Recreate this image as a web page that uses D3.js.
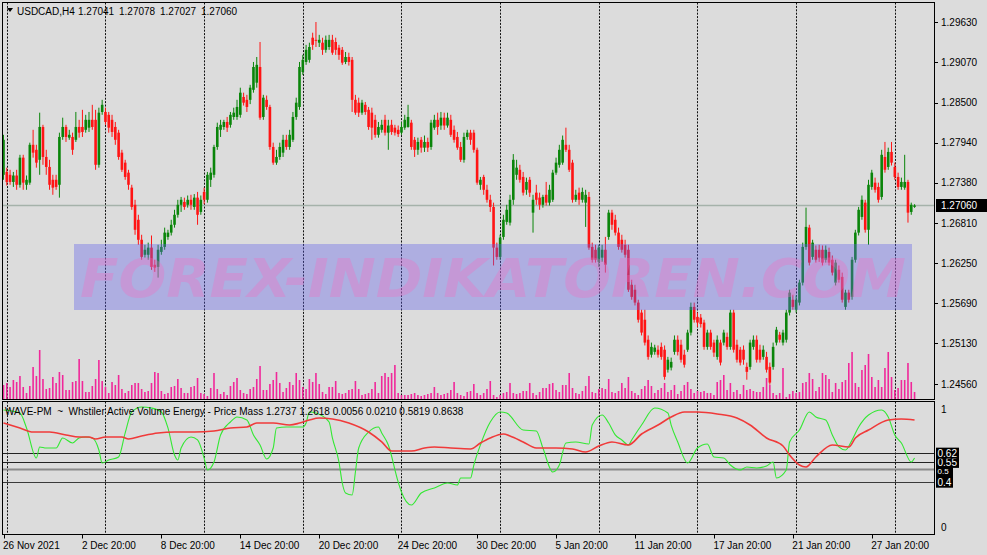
<!DOCTYPE html>
<html><head><meta charset="utf-8">
<script src="https://cdn.jsdelivr.net/npm/d3@7"></script>
<style>html,body{margin:0;padding:0;background:#dcdcdc;overflow:hidden}svg{display:block}</style>
</head><body>
<svg id="chart" width="987" height="555"></svg>
<script>
// ---------- DATA (USDCAD H4, one entry per bar) ----------
const opens = [
1.2749,1.2753,1.2749,1.2739,1.2748,1.2735,1.2773,1.2735,1.2738,1.2791,
1.2784,1.2770,1.2816,1.2774,1.2760,1.2742,1.2742,1.2735,1.2802,1.2816,
1.2801,1.2802,1.2798,1.2816,1.2816,1.2812,1.2815,1.2826,1.2826,1.2763,
1.2837,1.2837,1.2833,1.2826,1.2816,1.2808,1.2780,1.2766,1.2752,1.2731,
1.2707,1.2686,1.2658,1.2637,1.2637,1.2647,1.2623,1.2620,1.2641,1.2648,
1.2662,1.2668,1.2679,1.2693,1.2707,1.2711,1.2707,1.2714,1.2704,1.2717,
1.2697,1.2725,1.2714,1.2742,1.2749,1.2788,1.2812,1.2816,1.2823,1.2819,
1.2830,1.2830,1.2833,1.2858,1.2854,1.2854,1.2868,1.2878,1.2900,1.2830,
1.2854,1.2844,1.2788,1.2766,1.2774,1.2780,1.2798,1.2788,1.2798,1.2830,
1.2844,1.2893,1.2907,1.2910,1.2941,1.2938,1.2934,1.2934,1.2924,1.2928,
1.2938,1.2935,1.2927,1.2924,1.2907,1.2914,1.2910,1.2854,1.2850,1.2836,
1.2847,1.2840,1.2836,1.2826,1.2805,1.2812,1.2826,1.2808,1.2819,1.2815,
1.2812,1.2808,1.2815,1.2816,1.2822,1.2798,1.2784,1.2798,1.2787,1.2795,
1.2788,1.2815,1.2826,1.2818,1.2829,1.2818,1.2826,1.2812,1.2802,1.2788,
1.2770,1.2802,1.2808,1.2808,1.2784,1.2735,1.2746,1.2728,1.2714,1.2704,
1.2647,1.2634,1.2662,1.2683,1.2682,1.2714,1.2749,1.2756,1.2746,1.2728,
1.2742,1.2696,1.2724,1.2717,1.2707,1.2721,1.2710,1.2714,1.2752,1.2763,
1.2766,1.2791,1.2784,1.2766,1.2714,1.2724,1.2714,1.2710,1.2718,1.2648,
1.2644,1.2627,1.2633,1.2644,1.2662,1.2696,1.2686,1.2668,1.2658,1.2651,
1.2644,1.2595,1.2588,1.2570,1.2556,1.2546,1.2518,1.2497,1.2501,1.2504,
1.2508,1.2504,1.2476,1.2479,1.2501,1.2518,1.2511,1.2497,1.2504,1.2528,
1.2564,1.2550,1.2549,1.2542,1.2508,1.2528,1.2514,1.2494,1.2514,1.2514,
1.2522,1.2508,1.2556,1.2511,1.2504,1.2504,1.2480,1.2480,1.2508,1.2518,
1.2504,1.2494,1.2494,1.2480,1.2480,1.2514,1.2525,1.2514,1.2518,1.2556,
1.2574,1.2560,1.2570,1.2598,1.2648,1.2675,1.2634,1.2644,1.2644,1.2644,
1.2630,1.2641,1.2630,1.2598,1.2616,1.2606,1.2564,1.2584,1.2578,1.2630,
1.2668,1.2690,1.2710,1.2672,1.2732,1.2738,1.2732,1.2718,1.2774,1.2760,
1.2781,1.2760,1.2746,1.2732,1.2731,1.2739,1.2697,1.27041];

const highs = [
1.2805,1.2759,1.2756,1.2753,1.2756,1.2777,1.2777,1.2748,1.2794,1.2812,
1.2791,1.2836,1.2819,1.2784,1.2770,1.2749,1.2749,1.2808,1.2829,1.2819,
1.2812,1.2808,1.2837,1.2826,1.2840,1.2833,1.2837,1.2847,1.2840,1.2843,
1.2854,1.2843,1.2837,1.2833,1.2823,1.2812,1.2784,1.2770,1.2756,1.2735,
1.2714,1.2693,1.2665,1.2651,1.2654,1.2664,1.2630,1.2651,1.2658,1.2675,
1.2672,1.2686,1.2700,1.2714,1.2718,1.2717,1.2720,1.2721,1.2722,1.2725,
1.2720,1.2731,1.2753,1.2759,1.2791,1.2822,1.2826,1.2826,1.2830,1.2837,
1.2843,1.2854,1.2871,1.2864,1.2861,1.2875,1.2907,1.2914,1.2935,1.2861,
1.2860,1.2847,1.2794,1.2784,1.2794,1.2805,1.2805,1.2812,1.2837,1.2857,
1.2907,1.2917,1.2931,1.2934,1.2948,1.2963,1.2945,1.2941,1.2944,1.2945,
1.2945,1.2941,1.2931,1.2928,1.2921,1.2920,1.2914,1.2861,1.2857,1.2854,
1.2851,1.2844,1.2843,1.2833,1.2823,1.2826,1.2833,1.2826,1.2826,1.2819,
1.2818,1.2823,1.2833,1.2847,1.2826,1.2802,1.2801,1.2802,1.2804,1.2801,
1.2826,1.2833,1.2836,1.2837,1.2836,1.2836,1.2833,1.2818,1.2809,1.2795,
1.2808,1.2812,1.2812,1.2812,1.2787,1.2746,1.2749,1.2735,1.2721,1.2710,
1.2654,1.2665,1.2693,1.2707,1.2721,1.2778,1.2770,1.2763,1.2753,1.2745,
1.2746,1.2721,1.2735,1.2724,1.2721,1.2739,1.2735,1.2756,1.2773,1.2791,
1.2804,1.2815,1.2791,1.2770,1.2728,1.2731,1.2731,1.2728,1.2725,1.2654,
1.2651,1.2651,1.2651,1.2662,1.2700,1.2700,1.2693,1.2675,1.2665,1.2658,
1.2651,1.2602,1.2595,1.2574,1.2560,1.2560,1.2524,1.2514,1.2511,1.2510,
1.2514,1.2510,1.2494,1.2493,1.2524,1.2524,1.2518,1.2504,1.2532,1.2570,
1.2570,1.2556,1.2554,1.2546,1.2532,1.2532,1.2518,1.2524,1.2518,1.2532,
1.2528,1.2560,1.2560,1.2518,1.2508,1.2510,1.2486,1.2518,1.2524,1.2524,
1.2511,1.2510,1.2501,1.2486,1.2514,1.2536,1.2529,1.2532,1.2560,1.2588,
1.2581,1.2580,1.2602,1.2654,1.2703,1.2679,1.2658,1.2650,1.2651,1.2650,
1.2650,1.2647,1.2636,1.2630,1.2622,1.2612,1.2588,1.2588,1.2634,1.2672,
1.2704,1.2720,1.2714,1.2742,1.2756,1.2745,1.2738,1.2784,1.2795,1.2787,
1.2795,1.2766,1.2752,1.2745,1.2777,1.2742,1.2710,1.27078];

const lows = [
1.2742,1.2734,1.2735,1.2732,1.2728,1.2731,1.2728,1.2728,1.2735,1.2773,
1.2759,1.2749,1.2763,1.2749,1.2728,1.2721,1.2728,1.2717,1.2798,1.2795,
1.2798,1.2777,1.2795,1.2801,1.2802,1.2808,1.2809,1.2812,1.2756,1.2759,
1.2833,1.2819,1.2808,1.2802,1.2791,1.2770,1.2753,1.2742,1.2728,1.2700,
1.2665,1.2651,1.2630,1.2633,1.2630,1.2616,1.2613,1.2605,1.2637,1.2644,
1.2658,1.2664,1.2675,1.2689,1.2697,1.2700,1.2703,1.2700,1.2700,1.2679,
1.2693,1.2708,1.2710,1.2732,1.2745,1.2784,1.2802,1.2812,1.2809,1.2815,
1.2826,1.2826,1.2829,1.2846,1.2837,1.2848,1.2864,1.2871,1.2826,1.2826,
1.2840,1.2784,1.2763,1.2763,1.2770,1.2774,1.2784,1.2784,1.2795,1.2826,
1.2840,1.2889,1.2903,1.2906,1.2924,1.2928,1.2928,1.2917,1.2920,1.2924,
1.2917,1.2917,1.2910,1.2903,1.2904,1.2902,1.2837,1.2833,1.2830,1.2833,
1.2833,1.2812,1.2798,1.2801,1.2801,1.2808,1.2804,1.2784,1.2805,1.2804,
1.2802,1.2805,1.2812,1.2815,1.2784,1.2774,1.2777,1.2780,1.2781,1.2781,
1.2784,1.2812,1.2805,1.2812,1.2812,1.2815,1.2802,1.2794,1.2784,1.2767,
1.2766,1.2798,1.2791,1.2780,1.2735,1.2728,1.2721,1.2710,1.2697,1.2622,
1.2630,1.2630,1.2658,1.2679,1.2678,1.2707,1.2742,1.2738,1.2720,1.2721,
1.2718,1.2668,1.2707,1.2700,1.2703,1.2706,1.2706,1.2711,1.2749,1.2759,
1.2763,1.2781,1.2753,1.2710,1.2711,1.2707,1.2710,1.2676,1.2644,1.2626,
1.2626,1.2620,1.2627,1.2612,1.2658,1.2672,1.2664,1.2644,1.2640,1.2633,
1.2585,1.2574,1.2566,1.2542,1.2524,1.2510,1.2490,1.2493,1.2497,1.2493,
1.2490,1.2462,1.2472,1.2475,1.2497,1.2496,1.2486,1.2479,1.2501,1.2524,
1.2542,1.2536,1.2535,1.2504,1.2504,1.2504,1.2494,1.2490,1.2482,1.2510,
1.2504,1.2504,1.2500,1.2486,1.2482,1.2483,1.2462,1.2476,1.2504,1.2486,
1.2486,1.2490,1.2472,1.2455,1.2476,1.2510,1.2514,1.2510,1.2514,1.2552,
1.2560,1.2556,1.2566,1.2594,1.2644,1.2622,1.2630,1.2626,1.2627,1.2622,
1.2626,1.2622,1.2608,1.2594,1.2598,1.2570,1.2560,1.2570,1.2574,1.2626,
1.2664,1.2686,1.2668,1.2651,1.2728,1.2724,1.2710,1.2714,1.2752,1.2756,
1.2762,1.2742,1.2728,1.2728,1.2728,1.2682,1.2693,1.27027];

const closes = [
1.2798,1.2739,1.2739,1.2748,1.2735,1.2773,1.2738,1.2742,1.2791,1.2780,
1.2766,1.2816,1.2774,1.2760,1.2735,1.2731,1.2732,1.2802,1.2816,1.2802,
1.2805,1.2784,1.2816,1.2808,1.2809,1.2826,1.2826,1.2816,1.2763,1.2836,
1.2847,1.2823,1.2815,1.2809,1.2798,1.2774,1.2756,1.2746,1.2735,1.2704,
1.2672,1.2658,1.2634,1.2644,1.2647,1.2620,1.2619,1.2644,1.2648,1.2668,
1.2668,1.2679,1.2693,1.2707,1.2714,1.2704,1.2714,1.2707,1.2717,1.2693,
1.2714,1.2714,1.2749,1.2752,1.2788,1.2816,1.2819,1.2823,1.2815,1.2833,
1.2836,1.2844,1.2864,1.2850,1.2844,1.2871,1.2900,1.2903,1.2829,1.2857,
1.2844,1.2788,1.2766,1.2774,1.2788,1.2798,1.2788,1.2805,1.2830,1.2850,
1.2900,1.2910,1.2924,1.2928,1.2931,1.2937,1.2938,1.2924,1.2938,1.2938,
1.2920,1.2924,1.2917,1.2906,1.2914,1.2907,1.2854,1.2836,1.2836,1.2850,
1.2837,1.2816,1.2815,1.2805,1.2816,1.2819,1.2808,1.2818,1.2809,1.2808,
1.2806,1.2816,1.2826,1.2830,1.2788,1.2784,1.2795,1.2787,1.2795,1.2787,
1.2822,1.2826,1.2816,1.2829,1.2818,1.2829,1.2805,1.2798,1.2787,1.2770,
1.2802,1.2808,1.2798,1.2784,1.2738,1.2742,1.2728,1.2714,1.2704,1.2647,
1.2634,1.2661,1.2686,1.2700,1.2714,1.2770,1.2759,1.2742,1.2724,1.2739,
1.2724,1.2714,1.2714,1.2707,1.2718,1.2710,1.2728,1.2752,1.2766,1.2784,
1.2798,1.2784,1.2756,1.2714,1.2721,1.2714,1.2725,1.2721,1.2647,1.2630,
1.2630,1.2647,1.2644,1.2623,1.2696,1.2679,1.2668,1.2648,1.2644,1.2637,
1.2588,1.2578,1.2570,1.2546,1.2528,1.2514,1.2494,1.2508,1.2507,1.2497,
1.2494,1.2466,1.2490,1.2487,1.2518,1.2501,1.2490,1.2483,1.2528,1.2564,
1.2546,1.2542,1.2540,1.2508,1.2528,1.2508,1.2500,1.2518,1.2486,1.2528,
1.2508,1.2556,1.2504,1.2490,1.2486,1.2490,1.2473,1.2514,1.2518,1.2490,
1.2490,1.2504,1.2476,1.2458,1.2508,1.2532,1.2518,1.2528,1.2556,1.2584,
1.2564,1.2574,1.2598,1.2648,1.2676,1.2626,1.2654,1.2630,1.2633,1.2626,
1.2644,1.2626,1.2612,1.2626,1.2602,1.2574,1.2584,1.2574,1.2630,1.2668,
1.2700,1.2714,1.2672,1.2735,1.2752,1.2728,1.2714,1.2777,1.2756,1.2781,
1.2766,1.2746,1.2732,1.2739,1.2739,1.2696,1.2707,1.27060];

// tick volume (hundreds of ticks)
const volumes = [
14,16,12,19,17,23,12,6,13,32, 23,49,20,10,11,22,16,27,24,9,
9,17,18,40,18,7,7,13,20,39, 18,12,6,17,14,24,10,6,8,14,
16,16,10,7,8,16,27,26,8,5, 6,12,13,20,11,6,6,12,13,21,
6,5,3,11,26,10,5,7,4,13, 17,21,9,6,5,10,12,20,33,9,
9,15,19,27,16,7,11,17,14,26, 19,12,10,20,17,26,15,7,5,12,
12,18,6,5,6,9,10,18,10,4, 5,6,10,17,6,23,26,22,26,34,
6,4,4,4,5,6,4,3,4,5, 6,12,6,4,5,6,9,17,6,4,
3,7,8,15,6,4,6,10,18,4, 2,4,6,7,16,6,5,6,8,8,
16,6,4,7,11,11,15,16,9,7, 14,14,26,11,6,5,8,13,23,7,
6,10,11,10,20,7,6,8,16,11, 22,8,6,4,10,13,19,13,6,
9,11,16,7,9,14,5,8,14,17, 10,6,8,7,8,6,6,4,17,19,
24,9,16,7,9,5,14,9,10,8, 7,7,12,21,14,6,4,6,31,2,
5,8,6,7,16,17,26,20,8,12, 26,24,20,7,16,10,17,19,36,47,
16,12,29,34,45,22,12,19,12,31, 47,22,9,11,19,19,36,17,7];

const priceTicks = [1.29630,1.29070,1.28500,1.27940,1.27380,1.26810,1.26250,1.25690,1.25130,1.24560];
const lastPrice = 1.27060;

const dateLabels = ["26 Nov 2021","2 Dec 20:00","8 Dec 20:00","14 Dec 20:00","20 Dec 20:00","24 Dec 20:00",
  "30 Dec 20:00","5 Jan 20:00","11 Jan 20:00","17 Jan 20:00","21 Jan 20:00","27 Jan 20:00"];
const dateBars = [0,24,48,72,96,120,144,168,192,216,240,264];
const weekStartBars = [1,31,61,91,121,151,181,211,241,271];

// WAVE-PM indicator (green = wave, red = mass)
const greenBars = [0,5,7,10,11,13,16,18,21,23,25,27,29,30,32,35,37,39,42,45,48,50,52,53,54,57,59,61,62,64,
66,69,71,74,76,78,80,82,83,86,88,91,92,93,95,99,100,102,103,104,106,107,108,111,114,115,117,120,121,124,
127,131,135,138,139,142,143,145,148,151,153,158,162,164,167,169,171,174,178,179,182,184,186,188,190,191,194,198,202,203,
205,208,211,214,216,219,221,224,226,229,232,234,235,238,239,242,245,247,250,252,254,256,258,260,263,267,269,271,273,276,277];
const greenVals = [0.947,0.924,0.811,0.583,0.667,0.659,0.659,0.735,0.697,0.735,0.742,0.735,0.644,0.545,0.568,0.591,0.773,0.932,0.970,0.962,
0.932,0.811,0.606,0.568,0.659,0.742,0.720,0.583,0.492,0.553,0.758,0.856,0.894,0.871,0.758,0.682,0.576,0.659,0.811,0.818,
0.818,0.818,0.848,0.932,0.924,0.856,0.735,0.553,0.394,0.318,0.303,0.477,0.659,0.780,0.818,0.773,0.682,0.402,0.326,0.227,
0.318,0.356,0.394,0.379,0.432,0.432,0.530,0.682,0.856,0.932,0.924,0.795,0.788,0.659,0.477,0.530,0.697,0.705,0.689,0.833,
0.909,0.848,0.758,0.720,0.682,0.720,0.833,0.962,0.924,0.833,0.705,0.545,0.659,0.689,0.591,0.583,0.530,0.492,0.515,0.508,
0.523,0.553,0.432,0.492,0.705,0.795,0.932,0.894,0.871,0.758,0.667,0.644,0.720,0.818,0.909,0.947,0.894,0.758,0.697,0.553,0.583];
const redBars = [0,5,9,14,19,23,26,28,31,36,38,42,47,52,58,64,69,74,77,82,87,90,93,96,100,105,111,115,118,124,
128,131,136,142,145,148,152,154,158,162,168,173,177,181,185,190,194,199,203,207,211,217,223,227,232,237,239,242,244,247,
252,257,259,263,269,273,277];
const redVals = [0.848,0.811,0.780,0.780,0.758,0.742,0.742,0.727,0.742,0.742,0.727,0.750,0.773,0.780,0.780,0.788,0.811,0.818,0.848,0.848,
0.833,0.848,0.871,0.886,0.879,0.848,0.780,0.705,0.636,0.636,0.659,0.667,0.659,0.652,0.697,0.735,0.765,0.750,0.705,0.659,
0.659,0.652,0.629,0.674,0.705,0.682,0.765,0.833,0.894,0.932,0.932,0.917,0.886,0.833,0.735,0.674,0.606,0.530,0.515,0.591,
0.682,0.667,0.735,0.795,0.871,0.879,0.871];
const levelVals = [0.62,0.55,0.5,0.4];
const levelLabels = ["0.62","0.55","0.5","0.4"];

const headerSymbol = "USDCAD,H4";
const headerOHLC = ["1.27041","1.27078","1.27027","1.27060"];
const indTitle = "WAVE-PM  ~  Whstiler Active Volume Energy - Price Mass 1.2737 1.2618 0.0056 0.0210 0.5819 0.8638";

// ---------- CHART ----------
const FONT = '"Liberation Sans", Arial, sans-serif';
const BG = '#dcdcdc', BULL = '#0a850a', BEAR = '#ff1414', VOL = '#f0289a';
const svg = d3.select('#chart');
svg.append('rect').attr('width',987).attr('height',555).attr('fill',BG);

const P = {left:2.5, right:934.5, mTop:2.5, mBot:399.5, iTop:401.5, iBot:534.5};

const x = d3.scaleLinear().domain([0, opens.length-1]).range([3.5, 3.5 + (opens.length-1)*3.289]);
const y = d3.scaleLinear().domain([1.24560, 1.29630]).range([384, 22]);
const yVol = d3.scaleLinear().domain([0, 100]).range([399, 299]);
const yInd = d3.scaleLinear().domain([0, 1]).range([535, 403]);

const defs = svg.append('defs');
defs.append('clipPath').attr('id','clipM').append('rect')
  .attr('x',P.left+0.5).attr('y',P.mTop+0.5).attr('width',P.right-P.left-1).attr('height',P.mBot-P.mTop-1);
defs.append('clipPath').attr('id','clipI').append('rect')
  .attr('x',P.left+0.5).attr('y',P.iTop+0.5).attr('width',P.right-P.left-1).attr('height',P.iBot-P.iTop-1);

const gM = svg.append('g').attr('clip-path','url(#clipM)');
const gI = svg.append('g').attr('clip-path','url(#clipI)');

// weekly dotted separators
[[gM,P.mTop,P.mBot],[gI,P.iTop,P.iBot]].forEach(([g,t,b]) => {
  g.selectAll('line.sep').data(weekStartBars).join('line').attr('class','sep')
    .attr('x1',d=>Math.round(x(d))+0.5).attr('x2',d=>Math.round(x(d))+0.5)
    .attr('y1',t).attr('y2',b)
    .attr('stroke','#111').attr('stroke-width',1).attr('stroke-dasharray','2,1.4');
});

// volumes
gM.selectAll('line.vol').data(volumes).join('line').attr('class','vol')
  .attr('x1',(d,i)=>x(i)).attr('x2',(d,i)=>x(i))
  .attr('y1',yVol(0)).attr('y2',d=>yVol(d))
  .attr('stroke',VOL).attr('stroke-width',1.6);

// bid line
gM.append('line').attr('x1',P.left).attr('x2',P.right)
  .attr('y1',y(lastPrice)).attr('y2',y(lastPrice))
  .attr('stroke','#a5b2aa').attr('stroke-width',1.5);

// candles
const idx = d3.range(opens.length);
const col = i => closes[i] >= opens[i] ? BULL : BEAR;
gM.selectAll('line.wick').data(idx).join('line').attr('class','wick')
  .attr('x1',i=>x(i)).attr('x2',i=>x(i))
  .attr('y1',i=>y(highs[i])).attr('y2',i=>y(lows[i]))
  .attr('stroke',col).attr('stroke-width',1);
gM.selectAll('rect.body').data(idx).join('rect').attr('class','body')
  .attr('x',i=>x(i)-1.3).attr('width',2.6)
  .attr('y',i=>y(Math.max(opens[i],closes[i])))
  .attr('height',i=>Math.max(1, y(Math.min(opens[i],closes[i])) - y(Math.max(opens[i],closes[i]))))
  .attr('fill',col);

// watermark
gM.append('rect').attr('x',74).attr('y',244).attr('width',838).attr('height',66)
  .attr('fill','#5f5feb').attr('opacity',0.36);
gM.append('text').attr('x',80).attr('y',297).text('FOREX-INDIKATOREN.COM')
  .attr('font-family','"DejaVu Sans", sans-serif').attr('font-weight','bold').attr('font-style','italic')
  .attr('font-size',54).attr('textLength',826).attr('lengthAdjust','spacingAndGlyphs')
  .attr('fill','#f46cc0').attr('opacity',0.33);

// header
svg.append('path').attr('d','M7,8 L13,8 L10,12 Z').attr('fill','#000');
svg.append('text').attr('x',17).attr('y',15).text(headerSymbol)
  .attr('font-family',FONT).attr('font-size',10).attr('fill','#000');
svg.selectAll('text.hdr').data(headerOHLC).join('text').attr('class','hdr')
  .attr('x',(d,i)=>78+i*41).attr('y',15).text(d=>d)
  .attr('font-family',FONT).attr('font-size',10).attr('fill','#000');

// indicator levels
const lvlStyle = [['#222',1],['#222',1],['#8a8a8a',2],['#3a3a3a',1]];
gI.selectAll('line.lvl').data(levelVals).join('line').attr('class','lvl')
  .attr('x1',P.left).attr('x2',P.right)
  .attr('y1',d=>Math.round(yInd(d))+0.5).attr('y2',d=>Math.round(yInd(d))+0.5)
  .attr('stroke',(d,i)=>lvlStyle[i][0]).attr('stroke-width',(d,i)=>lvlStyle[i][1]);

// indicator lines
const lineG = d3.line().x(d=>x(d[0])).y(d=>yInd(d[1])).curve(d3.curveMonotoneX);
gI.append('path').datum(greenBars.map((b,i)=>[b,greenVals[i]])).attr('d',lineG)
  .attr('fill','none').attr('stroke','#33e833').attr('stroke-width',1.1);
gI.append('path').datum(redBars.map((b,i)=>[b,redVals[i]])).attr('d',lineG)
  .attr('fill','none').attr('stroke','#f03a3a').attr('stroke-width',1.6);

gI.append('text').attr('x',5).attr('y',415).text(indTitle)
  .style('white-space','pre').attr('xml:space','preserve')
  .attr('font-family',FONT).attr('font-size',10).attr('fill','#000');

// panel frames
[[P.mTop,P.mBot],[P.iTop,P.iBot]].forEach(([t,b]) => {
  svg.append('rect').attr('x',P.left).attr('y',t).attr('width',P.right-P.left).attr('height',b-t)
    .attr('fill','none').attr('stroke','#000').attr('stroke-width',1);
});

// right price axis
const ax = svg.append('g');
ax.selectAll('line.pt').data(priceTicks).join('line').attr('class','pt')
  .attr('x1',P.right).attr('x2',P.right+3.5)
  .attr('y1',d=>Math.round(y(d))+0.5).attr('y2',d=>Math.round(y(d))+0.5)
  .attr('stroke','#000');
ax.selectAll('text.pl').data(priceTicks).join('text').attr('class','pl')
  .attr('x',941).attr('y',d=>y(d)+3.8).text(d=>d3.format('.5f')(d))
  .attr('font-family',FONT).attr('font-size',10).attr('fill','#000');
ax.append('rect').attr('x',936).attr('y',y(lastPrice)-6.5).attr('width',51).attr('height',13).attr('fill','#000');
ax.append('text').attr('x',941).attr('y',y(lastPrice)+3.8).text(d3.format('.5f')(lastPrice))
  .attr('font-family',FONT).attr('font-size',10).attr('fill','#fff');

// indicator axis labels
ax.append('text').attr('x',941).attr('y',yInd(1)+10).text('1')
  .attr('font-family',FONT).attr('font-size',10).attr('fill','#000');
ax.append('text').attr('x',941).attr('y',yInd(0)-4).text('0')
  .attr('font-family',FONT).attr('font-size',10).attr('fill','#000');
// boxed level labels; the 0.5 box sits partly under the 0.55 box as in MT4
const boxOffset = [0, 0, 2.5, 0];
const boxFont = [10, 10, 8, 10];
[3,2,1,0].forEach(k => {
  const v = levelVals[k], lab = levelLabels[k];
  const w = lab.length > 3 ? 23 : 17;
  const cy = yInd(v) + boxOffset[k];
  ax.append('rect').attr('x',936).attr('y',cy-5.5).attr('width',w).attr('height',11).attr('fill','#000');
  ax.append('text').attr('x',937.5).attr('y',cy + boxFont[k]*0.36).text(lab)
    .attr('font-family',FONT).attr('font-size',boxFont[k]).attr('fill','#fff');
});

// time axis
ax.selectAll('line.tt').data(dateBars).join('line').attr('class','tt')
  .attr('x1',d=>Math.round(x(d))+0.5).attr('x2',d=>Math.round(x(d))+0.5)
  .attr('y1',P.iBot).attr('y2',P.iBot+4).attr('stroke','#000');
ax.selectAll('text.dl').data(dateBars).join('text').attr('class','dl')
  .attr('x',d=>x(d)-0.5).attr('y',549).text((d,i)=>dateLabels[i])
  .attr('font-family',FONT).attr('font-size',10).attr('fill','#000');
</script>
</body></html>
